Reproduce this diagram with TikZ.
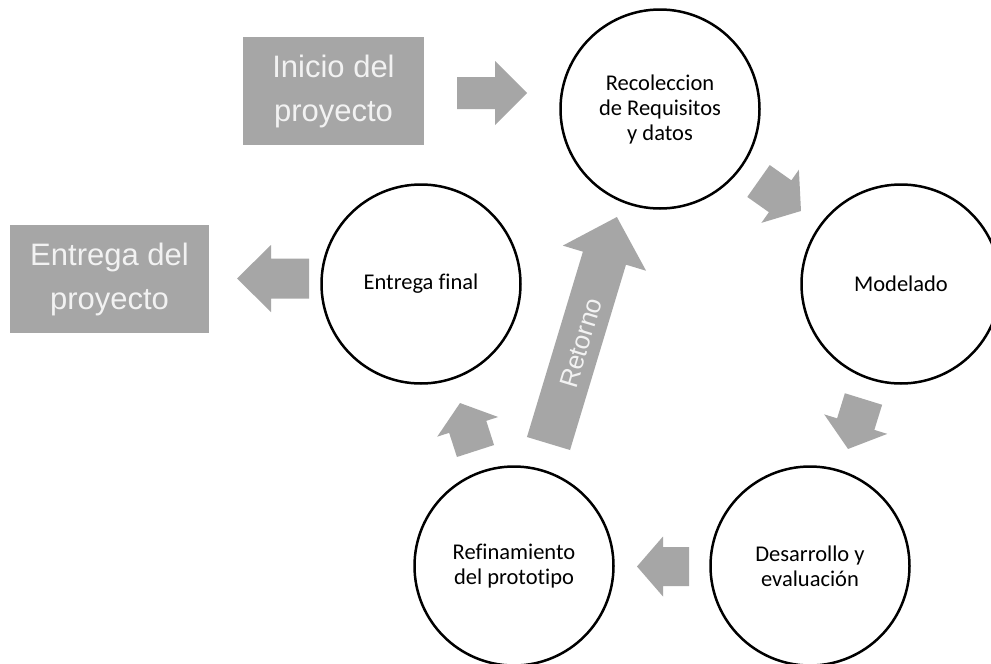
\documentclass[tikz,border=0pt]{standalone}
\usepackage{fontspec}
\setmainfont{Carlito}[Ligatures={NoCommon}]
\newfontfamily\arialfont{Liberation Sans}
\definecolor{boxgray}{HTML}{A6A6A6}
\definecolor{boxtext}{HTML}{F2F2F2}
\tikzset{
  stage/.style={circle, draw=black, line width=2.5pt, fill=white, minimum size=199pt, inner sep=0pt,
    align=center, font=\fontsize{22.5}{25}\selectfont},
  graybox/.style={rectangle, fill=boxgray, inner sep=0pt, align=center, text=boxtext,
    font=\arialfont\fontsize{31}{44}\selectfont},
  arrowfill/.style={fill=boxgray},
}
% tail point, angle, length, shaft half width, head half width, head length
\newcommand\blockarrow[6]{%
  \fill[arrowfill, shift={#1}, rotate=#2] (0,-#4) -- ({#3-#6},-#4) -- ({#3-#6},-#5) -- (#3,0)
    -- ({#3-#6},#5) -- ({#3-#6},#4) -- (0,#4) -- cycle;}
\begin{document}
\begin{tikzpicture}[x=1pt,y=-1pt]
\useasboundingbox (0,0) rectangle (991,664);
\clip (0,0) rectangle (991,664);
\fill[white] (0,0) rectangle (991,664);

% boxes
\node[graybox, minimum width=181pt, minimum height=108pt] (inicio) at (333.5,91) {Inicio del\\proyecto};
\node[graybox, minimum width=199pt, minimum height=108pt] (entrega) at (109.5,279) {Entrega del\\proyecto};

% stages
\node[stage] (rec) at (660,109) {Recoleccion\\de Requisitos\\y datos};
\node[stage] (mod) at (901,284) {Modelado};
\node[stage] (des) at (810,566) {Desarrollo y\\evaluación};
\node[stage] (ref) at (514,566) {Refinamiento\\del prototipo};
\node[stage] (ent) at (421,284) {\raisebox{5pt}{Entrega final}};

% block arrows
\blockarrow{(457,93)}{0}{70}{16}{32}{32}
\blockarrow{(758.5,181)}{-35.2}{52}{19.5}{32.5}{25.5}
\blockarrow{(863.5,399)}{-107.2}{52.3}{19.5}{33}{26}
\blockarrow{(689,566.5)}{180}{52}{19.5}{30}{26}
\blockarrow{(475.5,451)}{107.9}{50.4}{19.5}{32}{25}
\blockarrow{(309,278.5)}{180}{72}{20}{33.5}{34}
\blockarrow{(548.5,443.5)}{73.2}{236.6}{22.5}{43.5}{43}

\node[rotate=73.2, text=boxtext, font=\arialfont\fontsize{26}{30}\selectfont, inner sep=0pt] (retorno) at (581,343) {Retorno};
\end{tikzpicture}
\end{document}
